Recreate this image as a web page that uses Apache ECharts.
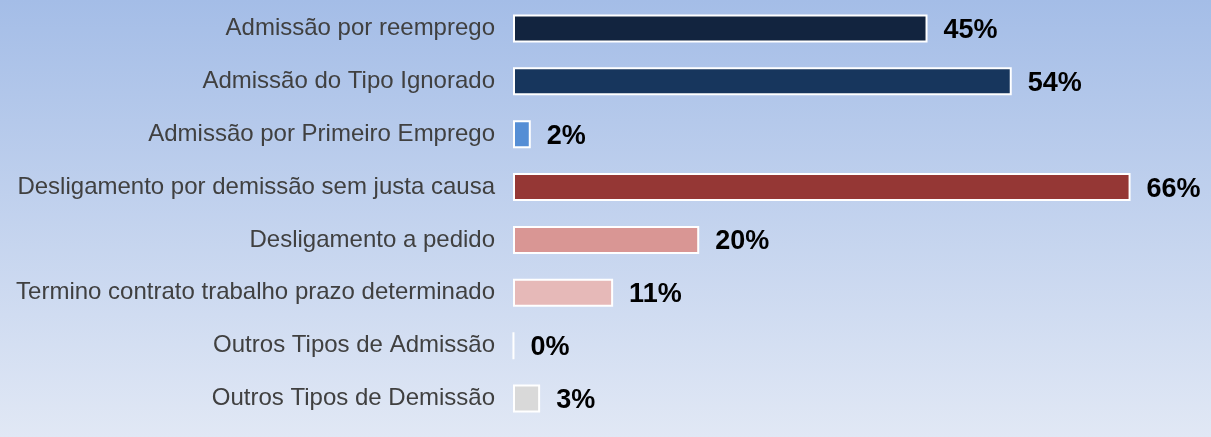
<!DOCTYPE html>
<html>
<head>
<meta charset="utf-8">
<script src="https://cdn.jsdelivr.net/npm/echarts@6/dist/echarts.min.js"></script>
<style>
  html, body { margin: 0; padding: 0; }
  #chart { width: 1211px; height: 437px; }
</style>
</head>
<body>
<div id="chart"></div>
<script>
// categorias (de cima para baixo)
var categories = [
  'Admissão por reemprego',
  'Admissão do Tipo Ignorado',
  'Admissão por Primeiro Emprego',
  'Desligamento por demissão sem justa causa',
  'Desligamento a pedido',
  'Termino contrato trabalho prazo determinado',
  'Outros Tipos de Admissão',
  'Outros Tipos de Demissão'
];
// comprimento das barras
var values = [44.3, 53.3, 1.9, 66, 19.9, 10.7, 0.1, 2.9];
// rótulos como aparecem no gráfico
var pctLabels = ['45%', '54%', '2%', '66%', '20%', '11%', '0%', '3%'];
var barColors = ['#12243f', '#17365d', '#558ed5', '#953735', '#d99694', '#e6b9b8', '#ffffff', '#d9d9d9'];

var chart = echarts.init(document.getElementById('chart'));

var seriesData = [];
for (var i = 0; i < values.length; i++) {
  seriesData.push({
    value: values[i],
    itemStyle: { color: barColors[i] }
  });
}

var option = {
  animation: false,
  backgroundColor: {
    type: 'linear', x: 0, y: 0, x2: 0, y2: 1,
    colorStops: [
      { offset: 0, color: '#a4bde7' },
      { offset: 1, color: '#e1e8f5' }
    ]
  },
  grid: {
    left: 513,
    right: 43,
    top: 2,
    bottom: 12
  },
  xAxis: {
    type: 'value',
    min: 0,
    max: 70,
    show: false
  },
  yAxis: {
    type: 'category',
    inverse: true,
    data: categories,
    axisLine: { show: false },
    axisTick: { show: false },
    axisLabel: {
      margin: 18,
      color: '#404040',
      fontSize: 24,
      fontFamily: 'Liberation Sans, Arial, sans-serif'
    }
  },
  series: [{
    type: 'bar',
    data: seriesData,
    barWidth: 28,
    itemStyle: {
      borderColor: '#ffffff',
      borderWidth: 2
    },
    label: {
      show: true,
      position: 'right',
      distance: 16,
      offset: [0, 2],
      color: '#000000',
      fontSize: 27,
      fontWeight: 'bold',
      fontFamily: 'Liberation Sans, Arial, sans-serif',
      formatter: function (p) { return pctLabels[p.dataIndex]; }
    }
  }]
};

chart.setOption(option);
</script>
</body>
</html>
